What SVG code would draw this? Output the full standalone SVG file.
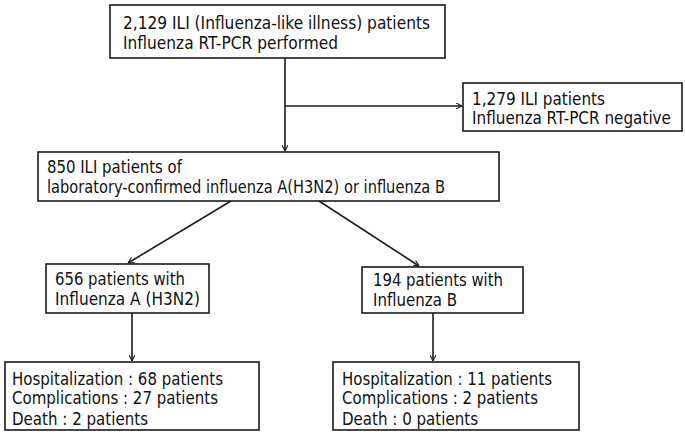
<svg xmlns="http://www.w3.org/2000/svg" width="685" height="435" viewBox="0 0 685 435">
<style>
.box{fill:#fff;stroke:#1a1a1a;stroke-width:1.6}
.t{font-family:"DejaVu Sans Condensed","DejaVu Sans",sans-serif;font-stretch:condensed;font-size:17px;fill:#111}
.c{stroke:#1a1a1a;stroke-width:1.6;fill:none}
</style>
<defs>
<marker id="ah" viewBox="0 0 10 10" refX="10" refY="5" markerWidth="6" markerHeight="6" markerUnits="userSpaceOnUse" orient="auto">
<path d="M0,0 L10,5 L0,10" fill="none" stroke="#1a1a1a" stroke-width="1.8"/>
</marker>
</defs>
<rect width="685" height="435" fill="#fff"/>
<g id="connectors">
<line class="c" x1="285" y1="58" x2="285" y2="151" marker-end="url(#ah)"/>
<line class="c" x1="285" y1="106" x2="462" y2="106" marker-end="url(#ah)"/>
<line class="c" x1="231" y1="201" x2="128" y2="263" marker-end="url(#ah)"/>
<line class="c" x1="319" y1="201" x2="419" y2="266" marker-end="url(#ah)"/>
<line class="c" x1="132" y1="313" x2="132" y2="361" marker-end="url(#ah)"/>
<line class="c" x1="433" y1="313" x2="433" y2="361" marker-end="url(#ah)"/>
</g>
<g id="n1">
<rect class="box" x="110" y="5" width="335" height="53"/>
<text class="t" x="123" y="29" textLength="307" lengthAdjust="spacingAndGlyphs">2,129 ILI (Influenza-like illness) patients</text>
<text class="t" x="123" y="49" textLength="215" lengthAdjust="spacingAndGlyphs">Influenza RT-PCR performed</text>
</g>
<g id="n2">
<rect class="box" x="463" y="83" width="219" height="48"/>
<text class="t" x="472" y="105" textLength="133" lengthAdjust="spacingAndGlyphs">1,279 ILI patients</text>
<text class="t" x="472" y="124" textLength="199" lengthAdjust="spacingAndGlyphs">Influenza RT-PCR negative</text>
</g>
<g id="n3">
<rect class="box" x="38" y="152" width="461" height="49"/>
<text class="t" x="47" y="173" textLength="135" lengthAdjust="spacingAndGlyphs">850 ILI patients of</text>
<text class="t" x="47" y="193" textLength="398" lengthAdjust="spacingAndGlyphs">laboratory-confirmed influenza A(H3N2) or influenza B</text>
</g>
<g id="n4">
<rect class="box" x="46" y="264" width="163" height="49"/>
<text class="t" x="55" y="285" textLength="130" lengthAdjust="spacingAndGlyphs">656 patients with</text>
<text class="t" x="55" y="305" textLength="145" lengthAdjust="spacingAndGlyphs">Influenza A (H3N2)</text>
</g>
<g id="n5">
<rect class="box" x="362" y="267" width="161" height="46"/>
<text class="t" x="373" y="286" textLength="130" lengthAdjust="spacingAndGlyphs">194 patients with</text>
<text class="t" x="373" y="306" textLength="84" lengthAdjust="spacingAndGlyphs">Influenza B</text>
</g>
<g id="n6">
<rect class="box" x="5" y="362" width="254" height="68"/>
<text class="t" x="12" y="385" textLength="211" lengthAdjust="spacingAndGlyphs">Hospitalization : 68 patients</text>
<text class="t" x="12" y="404" textLength="206" lengthAdjust="spacingAndGlyphs">Complications : 27 patients</text>
<text class="t" x="12" y="425" textLength="136" lengthAdjust="spacingAndGlyphs">Death : 2 patients</text>
</g>
<g id="n7">
<rect class="box" x="333" y="362" width="246" height="68"/>
<text class="t" x="342" y="385" textLength="210" lengthAdjust="spacingAndGlyphs">Hospitalization : 11 patients</text>
<text class="t" x="342" y="404" textLength="196" lengthAdjust="spacingAndGlyphs">Complications : 2 patients</text>
<text class="t" x="342" y="425" textLength="136" lengthAdjust="spacingAndGlyphs">Death : 0 patients</text>
</g>
</svg>
